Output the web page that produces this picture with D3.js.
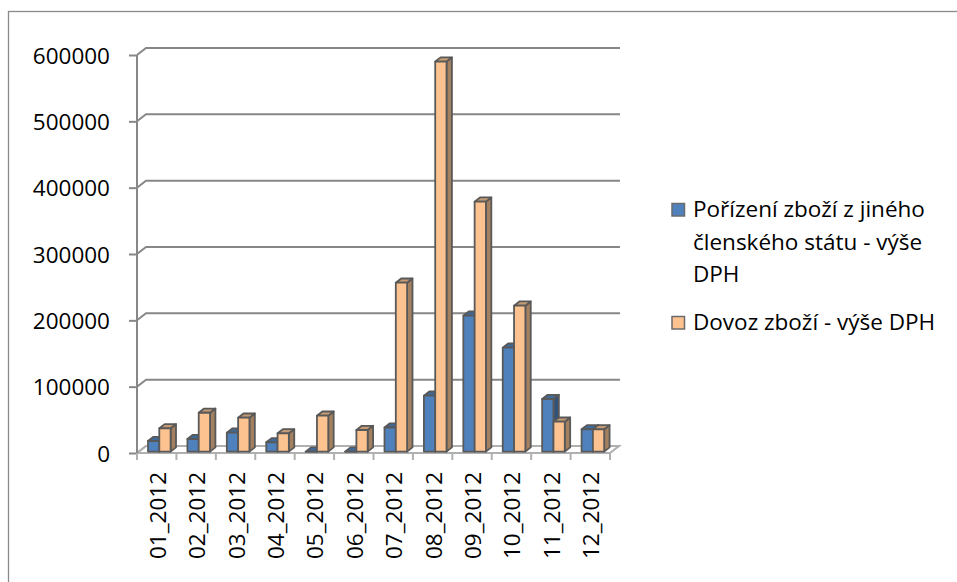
<!DOCTYPE html>
<html>
<head>
<meta charset="utf-8">
<script src="https://cdn.jsdelivr.net/npm/d3@7/dist/d3.min.js"></script>
<style>
  html, body { margin: 0; padding: 0; background: #fff; }
  svg { display: block; }
  text { font-family: "Open Sans", "Noto Sans", sans-serif; fill: #000; }
</style>
</head>
<body>
<svg id="chart" width="957" height="582"></svg>
<script>
// Monthly VAT amounts, 2012
const categories = ["01_2012", "02_2012", "03_2012", "04_2012", "05_2012", "06_2012",
                    "07_2012", "08_2012", "09_2012", "10_2012", "11_2012", "12_2012"];
const acquisitionVat = [16000, 19000, 28500, 14000, 0, 0, 36300, 84300, 204900, 156600, 79300, 33600];
const importVat = [35100, 58600, 51100, 27600, 54100, 32600, 254600, 588000, 376800, 220000, 45100, 33600];
const yTicks = [0, 100000, 200000, 300000, 400000, 500000, 600000];
const seriesNames = ["Pořízení zboží z jiného členského státu - výše DPH", "Dovoz zboží - výše DPH"];
const legendLines = [["Pořízení zboží z jiného", "členského státu - výše", "DPH"], ["Dovoz zboží - výše DPH"]];

const series = [
  { name: seriesNames[0], values: acquisitionVat, front: "#4f81bd", top: "#3f6a9c", side: "#30527b" },
  { name: seriesNames[1], values: importVat, front: "#fcc28f", top: "#c49b74", side: "#a3805f" }
];

const svg = d3.select("#chart");
const fontSize = 22.5;

// Oblique 3D projection: floor depth vector
const depthX = 9, depthY = -7;
const proj = (x, y, t) => [x + depthX * t, y + depthY * t];

const x0 = 137, x1 = 610;
const y = d3.scaleLinear().domain([0, 600000]).range([453, 55]);
const x = d3.scaleBand().domain(categories).range([x0, x1]);
const xs = d3.scaleBand().domain(series.map(s => s.name)).range([9.2, 31.8]);

// Outer chart frame
svg.append("rect").attr("x", 8.5).attr("y", 11.5).attr("width", 980).attr("height", 600)
  .attr("fill", "#fff").attr("stroke", "#8a8a8a").attr("stroke-width", 1.3);

const gridColor = "#878787";
const floorColor = "#b0b0b0";

// Floor
const yF = y(0);
const floorPts = [[x0, yF], [x1, yF], proj(x1, yF, 1), proj(x0, yF, 1)];
svg.append("path").attr("d", d3.line()(floorPts) + "Z")
  .attr("fill", "none").attr("stroke", floorColor).attr("stroke-width", 2);

// Back wall gridlines with side-wall diagonals
const grid = svg.append("g");
yTicks.forEach(v => {
  const yy = y(v);
  const b = proj(x0, yy, 1);
  if (v > 0) {
    grid.append("path")
      .attr("d", d3.line()([[x0, yy], b, [x1 + depthX + 1, b[1]]]))
      .attr("fill", "none").attr("stroke", gridColor).attr("stroke-width", 2);
  } else {
    grid.append("path")
      .attr("d", d3.line()([[x0, yy], b]))
      .attr("fill", "none").attr("stroke", floorColor).attr("stroke-width", 2);
  }
});

// Value axis
const yAxis = svg.append("g").attr("transform", `translate(${x0},0)`)
  .call(d3.axisLeft(y).tickValues(yTicks).tickFormat(d3.format("d")).tickSize(8).tickSizeOuter(0).tickPadding(19));
yAxis.select(".domain").remove();
yAxis.selectAll(".tick line").attr("stroke", gridColor).attr("stroke-width", 2);
yAxis.selectAll(".tick text").attr("font-size", fontSize).attr("dy", "0.36em")
  .style("font-family", '"Open Sans", sans-serif').attr("fill", "#000");
svg.append("line").attr("x1", x0).attr("x2", x0).attr("y1", y(600000)).attr("y2", yF + 7)
  .attr("stroke", gridColor).attr("stroke-width", 2);

// Category axis: ticks at band boundaries, labels rotated
const xAxis = svg.append("g").attr("transform", `translate(0,${yF})`)
  .call(d3.axisBottom(x).tickSize(0).tickSizeOuter(0));
xAxis.select(".domain").remove();
xAxis.selectAll(".tick text")
  .attr("font-size", fontSize).attr("fill", "#000")
  .style("font-family", '"Open Sans", sans-serif')
  .attr("transform", "rotate(-90)")
  .attr("x", -19).attr("y", 0).attr("dy", "0.4em")
  .style("text-anchor", "end");
const bounds = categories.map(c => x(c)).concat([x1]);
svg.append("g").selectAll("line").data(bounds).join("line")
  .attr("x1", d => d).attr("x2", d => d).attr("y1", yF).attr("y2", yF + 7)
  .attr("stroke", floorColor).attr("stroke-width", 2);

// 3D columns
const tFront = 0.2, tBack = 0.8;
const bars = svg.append("g")
  .attr("stroke", "#595959").attr("stroke-width", 1.8).attr("stroke-linejoin", "round");
categories.forEach((c, i) => {
  series.forEach(s => {
    const left = x(c) + xs(s.name);
    const right = left + xs.bandwidth();
    const top = y(s.values[i]);
    const [fl, ft] = proj(left, top, tFront);
    const [fr, fb] = proj(right, yF, tFront);
    const [bl, bt] = proj(left, top, tBack);
    const [br, bb] = proj(right, yF, tBack);
    const g = bars.append("g");
    // side face
    g.append("path").attr("d", d3.line()([[fr, ft], [br, bt], [br, bb], [fr, fb]]) + "Z").attr("fill", s.side);
    // top face
    g.append("path").attr("d", d3.line()([[fl, ft], [bl, bt], [br, bt], [fr, ft]]) + "Z").attr("fill", s.top);
    // front face
    g.append("path").attr("d", d3.line()([[fl, ft], [fr, ft], [fr, fb], [fl, fb]]) + "Z").attr("fill", s.front);
  });
});

// Legend
const legend = svg.append("g");
const legendX = 672, textX = 693;
const legendBaselines = [[217, 249.5, 282], [330]];
series.forEach((s, k) => {
  const base = legendBaselines[k][0];
  legend.append("rect").attr("x", legendX).attr("y", base - 13.5).attr("width", 12.5).attr("height", 12.5)
    .attr("fill", s.front).attr("stroke", "#6b6b6b").attr("stroke-width", 1.5);
  legendLines[k].forEach((line, j) => {
    legend.append("text").attr("x", textX).attr("y", legendBaselines[k][j])
      .attr("font-size", fontSize).text(line);
  });
});
</script>
</body>
</html>
